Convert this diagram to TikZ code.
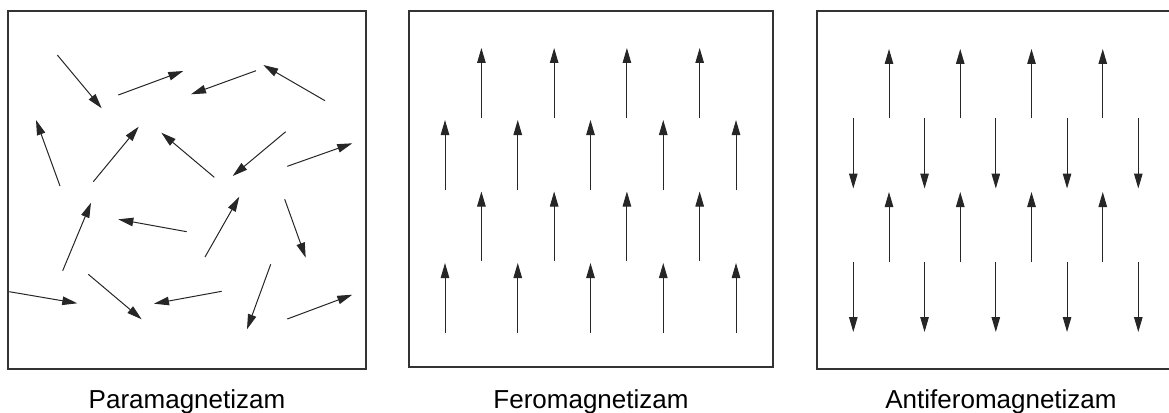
\documentclass[tikz,border=0pt]{standalone}
\usepackage{fontspec}
\setmainfont{Liberation Sans}
\usetikzlibrary{arrows.meta}

\tikzset{
  panel/.style={draw=black!80, line width=1.6pt},
  spin/.style={draw=black!85, line width=1pt, -{Triangle[length=15pt,width=8.5pt]}},
  caption/.style={anchor=base, font=\fontsize{26pt}{30pt}\selectfont}
}

\begin{document}
\begin{tikzpicture}[x=1pt, y=-1pt]
    \useasboundingbox (0,0) rectangle (1169,412);

    \draw[panel] (8,11) rectangle (366,369);
    \draw[panel] (409,11) rectangle (773,367);
    \draw[panel] (817,11) rectangle (1175,369);

    % paramagnet: random spins
    \draw[spin] (57.3,55) -- (101.7,108.3);
    \draw[spin] (118.3,95) -- (183.3,71);
    \draw[spin] (256,70.7) -- (191,94.3);
    \draw[spin] (325,100.7) -- (263.3,65);
    \draw[spin] (60,186) -- (36,120);
    \draw[spin] (93.3,181.7) -- (138.7,126.7);
    \draw[spin] (214.3,177.3) -- (161.3,132.7);
    \draw[spin] (285.7,131.7) -- (232.7,176);
    \draw[spin] (287.3,166.3) -- (352.3,143.3);
    \draw[spin] (62.7,270.7) -- (91,202.7);
    \draw[spin] (186.7,231.7) -- (118.3,219.3);
    \draw[spin] (205,257) -- (239.3,196.7);
    \draw[spin] (284.7,199.3) -- (305.7,257.7);
    \draw[spin] (9.3,291.7) -- (77.3,303.3);
    \draw[spin] (88.3,274.3) -- (141.7,319.3);
    \draw[spin] (221.7,291.3) -- (154,303.7);
    \draw[spin] (270.7,264.3) -- (247,329.3);
    \draw[spin] (287.3,319) -- (352.3,294.7);

    % feromagnet: all up
    \foreach \k in {0,...,3}{
        \draw[spin] (481.4+72.75*\k,118) -- (481.4+72.75*\k,48);
        \draw[spin] (481.4+72.75*\k,261) -- (481.4+72.75*\k,191.5);
    }
    \foreach \k in {0,...,4}{
        \draw[spin] (445+72.75*\k,190) -- (445+72.75*\k,120);
        \draw[spin] (445+72.75*\k,333) -- (445+72.75*\k,263);
    }

    % antiferomagnet: up and down
    \foreach \k in {0,...,3}{
        \draw[spin] (889+71.25*\k,118) -- (889+71.25*\k,49);
        \draw[spin] (889+71.25*\k,262) -- (889+71.25*\k,192);
    }
    \foreach \k in {0,...,4}{
        \draw[spin] (853.3+71.25*\k,118) -- (853.3+71.25*\k,188.5);
        \draw[spin] (853.3+71.25*\k,262) -- (853.3+71.25*\k,332);
    }

    \node[caption] (para) at (187,408) {Paramagnetizam};
    \node[caption] (fero) at (591,408) {Feromagnetizam};
    \node[caption] (antifero) at (1001,408) {Antiferomagnetizam};
\end{tikzpicture}
\end{document}
